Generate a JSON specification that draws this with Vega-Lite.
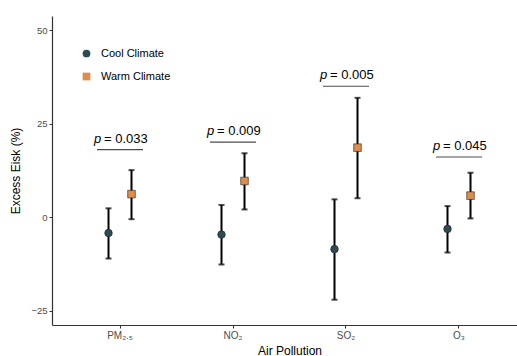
{
  "$schema": "https://vega.github.io/schema/vega-lite/v6.json",
  "autosize": "none",
  "width": 465,
  "height": 309,
  "padding": {"left": 52, "top": 16, "right": 0, "bottom": 31},
  "background": "white",
  "config": {
    "view": {"stroke": null},
    "font": "Liberation Sans",
    "axis": {"grid": false}
  },
  "datasets": {
    "est": [
      {"pollutant": "PM₂.₅", "climate": "Cool Climate", "est": -4.2, "lo": -11.0, "hi": 2.4},
      {"pollutant": "PM₂.₅", "climate": "Warm Climate", "est": 6.2, "lo": -0.5, "hi": 12.6},
      {"pollutant": "NO₂", "climate": "Cool Climate", "est": -4.6, "lo": -12.6, "hi": 3.3},
      {"pollutant": "NO₂", "climate": "Warm Climate", "est": 9.7, "lo": 2.1, "hi": 17.1},
      {"pollutant": "SO₂", "climate": "Cool Climate", "est": -8.5, "lo": -22.0, "hi": 4.8},
      {"pollutant": "SO₂", "climate": "Warm Climate", "est": 18.6, "lo": 5.1, "hi": 31.9},
      {"pollutant": "O₃", "climate": "Cool Climate", "est": -3.1, "lo": -9.4, "hi": 3.0},
      {"pollutant": "O₃", "climate": "Warm Climate", "est": 5.8, "lo": -0.3, "hi": 11.9}
    ],
    "pv": [
      {"pollutant": "PM₂.₅", "yline": 18.1, "label": "= 0.033"},
      {"pollutant": "NO₂", "yline": 20.1, "label": "= 0.009"},
      {"pollutant": "SO₂", "yline": 35.0, "label": "= 0.005"},
      {"pollutant": "O₃", "yline": 16.1, "label": "= 0.045"}
    ]
  },
  "encoding": {
    "x": {
      "field": "pollutant",
      "type": "nominal",
      "sort": ["PM₂.₅", "NO₂", "SO₂", "O₃"],
      "scale": {"range": [0, 475], "paddingInner": 0, "paddingOuter": 0.1018},
      "axis": {
        "title": "Air Pollution",
        "titleFontSize": 12,
        "titleFontWeight": "normal",
        "titleColor": "black",
        "titlePadding": 5,
        "labelAngle": 0,
        "labelFontSize": 10,
        "labelColor": "#4D4D4D",
        "labelPadding": 2,
        "tickSize": 3,
        "tickColor": "#333333",
        "domainColor": "#333333",
        "domainWidth": 1.2
      }
    }
  },
  "layer": [
    {
      "mark": {"type": "rule", "color": "#888888", "strokeWidth": 1.2},
      "encoding": {"y": {"datum": 53.75}, "x": null}
    },
    {
      "data": {"name": "est"},
      "mark": {"type": "rule", "color": "black", "strokeWidth": 2},
      "encoding": {
        "xOffset": {"field": "climate", "type": "nominal", "scale": {"range": [33.5, 79.5], "paddingInner": 0, "paddingOuter": 0}},
        "y": {
          "field": "lo",
          "type": "quantitative",
          "scale": {"domain": [-28.75, 53.75], "nice": false, "zero": false},
          "axis": {
            "values": [-25, 0, 25, 50],
            "title": "Excess Eisk (%)",
            "titleFontSize": 12,
            "titleFontWeight": "normal",
            "titleColor": "black",
            "titlePadding": 8,
            "labelFontSize": 9.5,
            "labelColor": "#4D4D4D",
            "labelPadding": 2,
            "tickSize": 3,
            "tickColor": "#333333",
            "domainColor": "#333333",
            "domainWidth": 1.2
          }
        },
        "y2": {"field": "hi"}
      }
    },
    {
      "data": {"name": "est"},
      "mark": {"type": "tick", "orient": "horizontal", "size": 6, "thickness": 2, "color": "black"},
      "encoding": {
        "xOffset": {"field": "climate", "type": "nominal"},
        "y": {"field": "lo", "type": "quantitative"}
      }
    },
    {
      "data": {"name": "est"},
      "mark": {"type": "tick", "orient": "horizontal", "size": 6, "thickness": 2, "color": "black"},
      "encoding": {
        "xOffset": {"field": "climate", "type": "nominal"},
        "y": {"field": "hi", "type": "quantitative"}
      }
    },
    {
      "data": {"name": "est"},
      "mark": {"type": "point", "filled": true, "stroke": "#222222", "strokeWidth": 0.6, "opacity": 1, "size": 58},
      "encoding": {
        "xOffset": {"field": "climate", "type": "nominal"},
        "y": {"field": "est", "type": "quantitative"},
        "fill": {
          "field": "climate",
          "type": "nominal",
          "scale": {"domain": ["Cool Climate", "Warm Climate"], "range": ["#2E4A52", "#E08C4A"]},
          "legend": {
            "title": null,
            "orient": "none",
            "legendX": 29,
            "legendY": 32,
            "padding": 0,
            "labelFontSize": 11,
            "labelColor": "black",
            "labelOffset": 9,
            "rowPadding": 11,
            "symbolSize": 60,
            "symbolStrokeColor": "#222222",
            "symbolStrokeWidth": 0.6
          }
        },
        "shape": {
          "field": "climate",
          "type": "nominal",
          "scale": {"domain": ["Cool Climate", "Warm Climate"], "range": ["circle", "square"]},
          "legend": {
            "title": null,
            "orient": "none",
            "legendX": 29,
            "legendY": 32,
            "padding": 0,
            "labelFontSize": 11,
            "labelColor": "black",
            "labelOffset": 9,
            "rowPadding": 11,
            "symbolSize": 60,
            "symbolStrokeColor": "#222222",
            "symbolStrokeWidth": 0.6
          }
        }
      }
    },
    {
      "data": {"name": "pv"},
      "mark": {"type": "tick", "orient": "horizontal", "size": 46, "thickness": 1.2, "color": "black"},
      "encoding": {"y": {"field": "yline", "type": "quantitative"}}
    },
    {
      "data": {"name": "pv"},
      "mark": {"type": "text", "fontStyle": "italic", "fontSize": 13, "align": "left", "baseline": "alphabetic", "dx": -26, "dy": -7, "color": "black"},
      "encoding": {"y": {"field": "yline", "type": "quantitative"}, "text": {"value": "p"}}
    },
    {
      "data": {"name": "pv"},
      "mark": {"type": "text", "fontSize": 13, "align": "left", "baseline": "alphabetic", "dx": -16, "dy": -7, "color": "black"},
      "encoding": {"y": {"field": "yline", "type": "quantitative"}, "text": {"field": "label"}}
    }
  ]
}
